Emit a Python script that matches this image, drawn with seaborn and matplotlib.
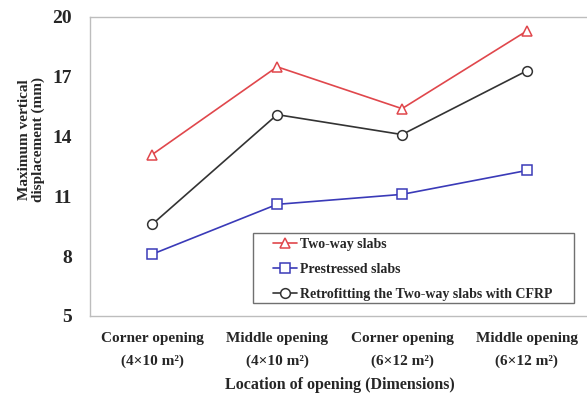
import matplotlib
matplotlib.use("Agg")
import matplotlib.pyplot as plt
from matplotlib.patches import Rectangle
import seaborn as sns
import pandas as pd

categories = [
    "Corner opening\n(4×10 m²)",
    "Middle opening\n(4×10 m²)",
    "Corner opening\n(6×12 m²)",
    "Middle opening\n(6×12 m²)",
]
two_way = [13.1, 17.5, 15.4, 19.3]
prestressed = [8.1, 10.6, 11.1, 12.3]
retrofitted = [9.6, 15.1, 14.1, 17.3]
y_ticks = [5, 8, 11, 14, 17, 20]

series = [
    ("Two-way slabs", two_way, "#e0474c", "^"),
    ("Prestressed slabs", prestressed, "#3a3ab8", "s"),
    ("Retrofitting the Two-way slabs with CFRP", retrofitted, "#333333", "o"),
]

sns.set_style("white")
plt.rcParams["font.family"] = ["Liberation Serif", "DejaVu Serif"]
plt.rcParams["font.weight"] = "bold"

W, H = 587, 394
fig = plt.figure(figsize=(W / 100, H / 100), dpi=100)
ax = fig.add_axes([0.153, 0.198, 0.851, 0.759])

for name, vals, color, mk in series:
    df = pd.DataFrame({"loc": categories, "disp": vals})
    sns.lineplot(data=df, x="loc", y="disp", ax=ax, color=color, marker=mk,
                 markersize=7, markerfacecolor="white", markeredgecolor=color,
                 markeredgewidth=1.1, linewidth=1.2, label=name, sort=False)

ax.set_xlim(-0.5, 3.5)
ax.set_ylim(5, 20)
ax.set_yticks(y_ticks)
ax.set_yticklabels([str(t) for t in y_ticks], fontsize=14, fontweight="bold")
ax.set_xticks(range(len(categories)))
ax.set_xticklabels(categories, fontsize=11, fontweight="bold", linespacing=1.9)
ax.tick_params(axis="both", length=4, color="#c8c8c8", width=0.8)
ax.tick_params(axis="x", pad=7.5)
ax.tick_params(axis="y", pad=9)

for side in ["left", "bottom", "top"]:
    ax.spines[side].set_color("#bdbdbd")
    ax.spines[side].set_linewidth(1.0)
ax.spines["right"].set_visible(False)

ax.set_xlabel("Location of opening (Dimensions)", fontsize=11.5, fontweight="bold")
ax.xaxis.set_label_coords(0.5, -0.205)
ax.set_ylabel("Maximum vertical\ndisplacement (mm)", fontsize=11, fontweight="bold",
              linespacing=1.05)
ax.yaxis.set_label_coords(-0.09, 0.59)

# legend entries placed without their own frame; the box is drawn separately
leg = ax.legend(loc="upper left", bbox_to_anchor=(273 / W, 1 - 238 / H),
                bbox_transform=fig.transFigure, frameon=False,
                prop={"family": "Liberation Serif", "weight": "bold", "size": 10},
                handlelength=1.75, handletextpad=0.2, borderpad=0,
                labelspacing=0.85, borderaxespad=0)
box = Rectangle((253 / W, 1 - 303 / H), (574 - 253) / W, (303 - 233) / H,
                transform=fig.transFigure, facecolor="none",
                edgecolor="#707070", linewidth=1.0, zorder=5)
fig.add_artist(box)

fig.savefig("out.png", dpi=100)
